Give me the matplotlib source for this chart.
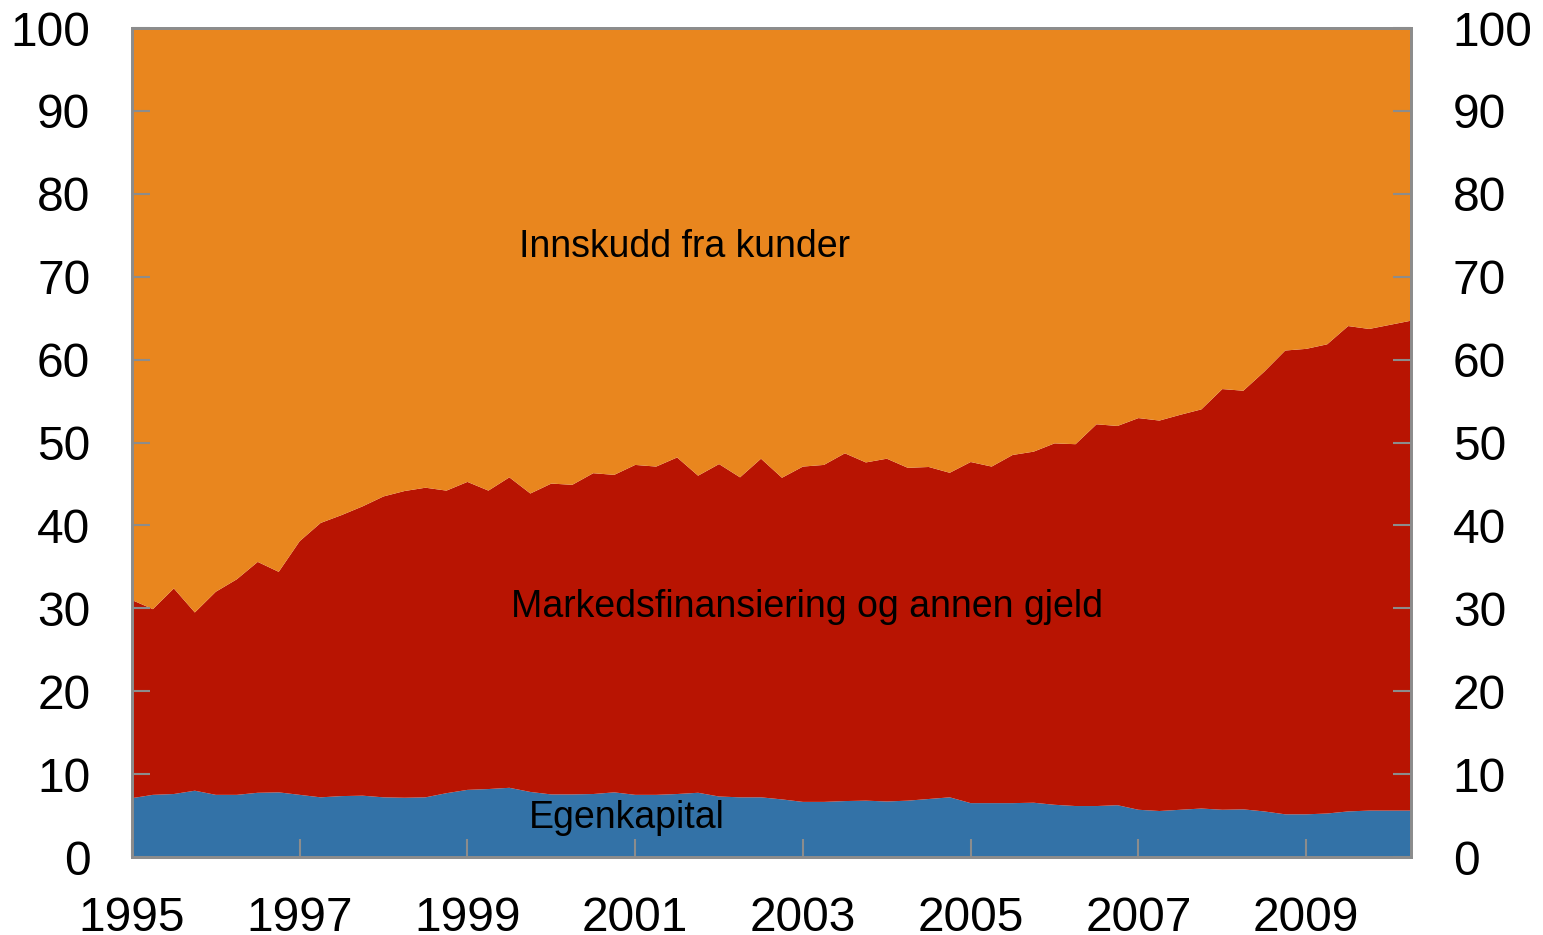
#!/usr/bin/env python3
"""Bankenes finansiering: andel egenkapital, markedsfinansiering og innskudd."""

import numpy as np
import pandas as pd
import matplotlib
matplotlib.use("Agg")
import matplotlib.pyplot as plt

plt.rcParams["font.family"] = ["Liberation Sans", "DejaVu Sans"]

# Quarterly, 1995Q1 - 2010Q2 (per cent of total)
quarters = pd.period_range("1995Q1", "2010Q2", freq="Q")

egenkapital = [
    7.1, 7.5, 7.6, 8.0, 7.5, 7.5, 7.75, 7.8, 7.5, 7.2,
    7.35, 7.4, 7.2, 7.15, 7.2, 7.7, 8.1, 8.2, 8.35, 7.85,
    7.55, 7.55, 7.6, 7.8, 7.5, 7.5, 7.6, 7.75, 7.3, 7.2,
    7.2, 6.95, 6.65, 6.65, 6.75, 6.8, 6.7, 6.8, 7.0, 7.2,
    6.5, 6.5, 6.5, 6.55, 6.3, 6.15, 6.15, 6.25, 5.7, 5.55,
    5.7, 5.85, 5.7, 5.75, 5.5, 5.15, 5.15, 5.25, 5.5, 5.6,
    5.6, 5.6,
]

markedsfinansiering = [
    23.9, 22.4, 24.8, 21.5, 24.5, 26.0, 27.85, 26.6, 30.6, 33.1,
    33.9, 34.9, 36.3, 37.0, 37.35, 36.5, 37.15, 36.0, 37.45, 36.0,
    37.5, 37.35, 38.7, 38.3, 39.8, 39.6, 40.6, 38.25, 40.1, 38.6,
    40.85, 38.8, 40.45, 40.65, 41.95, 40.8, 41.35, 40.15, 40.05, 39.15,
    41.15, 40.6, 42.0, 42.35, 43.6, 43.65, 46.05, 45.75, 47.25, 47.1,
    47.65, 48.15, 50.75, 50.5, 53.05, 55.95, 56.15, 56.6, 58.55, 58.1,
    58.6, 59.1,
]

innskudd = [
    69.0, 70.1, 67.6, 70.5, 68.0, 66.5, 64.4, 65.6, 61.9, 59.7,
    58.75, 57.7, 56.5, 55.85, 55.45, 55.8, 54.75, 55.8, 54.2, 56.15,
    54.95, 55.1, 53.7, 53.9, 52.7, 52.9, 51.8, 54.0, 52.6, 54.2,
    51.95, 54.25, 52.9, 52.7, 51.3, 52.4, 51.95, 53.05, 52.95, 53.65,
    52.35, 52.9, 51.5, 51.1, 50.1, 50.2, 47.8, 48.0, 47.05, 47.35,
    46.65, 46.0, 43.55, 43.75, 41.45, 38.9, 38.7, 38.15, 35.95, 36.3,
    35.8, 35.3,
]

year_ticks = [1995, 1997, 1999, 2001, 2003, 2005, 2007, 2009]
pct_ticks = [0, 10, 20, 30, 40, 50, 60, 70, 80, 90, 100]

BLUE = "#3372A7"
RED = "#B81402"
ORANGE = "#E9861E"
GREY = "#8C8C8C"

x = np.array([q.year + (q.quarter - 1) / 4 for q in quarters])

fig = plt.figure(figsize=(15.43, 9.35), dpi=100)
ax = fig.add_axes([0.0855, 0.0834, 0.829, 0.8866])

ax.stackplot(x, egenkapital, markedsfinansiering, innskudd,
             colors=[BLUE, RED, ORANGE], linewidth=0)

ax.set_xlim(x[0], x[-1])
ax.set_ylim(0, 100)
ax.set_xticks(year_ticks)
ax.set_yticks(pct_ticks)

ax2 = ax.twinx()
ax2.set_ylim(0, 100)
ax2.set_yticks(pct_ticks)

for a in (ax, ax2):
    for sp in a.spines.values():
        sp.set_color(GREY)
        sp.set_linewidth(2)
    a.tick_params(direction="in", length=13, width=1.5, color=GREY,
                  labelsize=34.5, pad=30)
ax.tick_params(axis="x", pad=28)

ax.text(2001.59, 73.6, "Innskudd fra kunder", ha="center", va="center",
        fontsize=27)
ax.text(2003.05, 30.2, "Markedsfinansiering og annen gjeld", ha="center",
        va="center", fontsize=27)
ax.text(2000.9, 4.7, "Egenkapital", ha="center", va="center", fontsize=27)

fig.savefig("out.png", dpi=100, facecolor="white")
